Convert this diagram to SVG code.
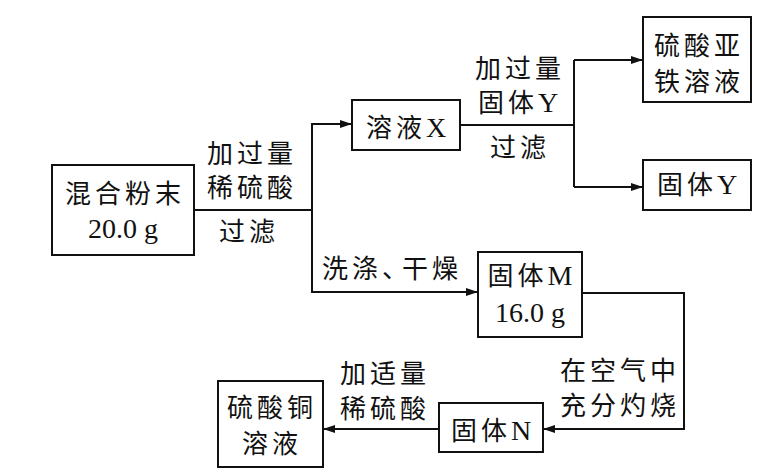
<svg xmlns="http://www.w3.org/2000/svg" width="774" height="476" viewBox="0 0 774 476">
<defs>
<marker id="arr" viewBox="0 0 12 8" refX="12" refY="4" markerWidth="12" markerHeight="8" markerUnits="userSpaceOnUse" orient="auto">
<path d="M0,0 L12,4 L0,8 Z" fill="#111"/>
</marker>
</defs>
<style>
.box{fill:#fff;stroke:#111;stroke-width:2}
.ln{fill:none;stroke:#111;stroke-width:2}
text{font-family:"Liberation Serif","Noto Sans CJK SC",serif;font-size:26px;fill:#111;text-anchor:middle;letter-spacing:4px}
.l{font-size:28px;letter-spacing:0}
</style>
<rect width="774" height="476" fill="#fff"/>
<g id="connectors">
<polyline class="ln" points="194,210 312,210"/>
<polyline class="ln" points="352,124 312,124 312,292 478,292" marker-end="url(#arr)"/>
<polyline class="ln" points="312,124 352,124" marker-end="url(#arr)"/>
<polyline class="ln" points="460,125 574,125"/>
<polyline class="ln" points="574,60 574,187"/>
<polyline class="ln" points="574,60 643,60" marker-end="url(#arr)"/>
<polyline class="ln" points="574,187 643,187" marker-end="url(#arr)"/>
<polyline class="ln" points="582,293 684,293 684,429 543,429" marker-end="url(#arr)"/>
<polyline class="ln" points="439,429 323,429" marker-end="url(#arr)"/>
<text x="252" y="163">加过量</text>
<text x="252" y="197">稀硫酸</text>
<text x="249" y="241">过滤</text>
<text x="520" y="78">加过量</text>
<text x="518" y="112">固体<tspan class="l">Y</tspan></text>
<text x="520" y="157">过滤</text>
<text x="392" y="278">洗涤<tspan letter-spacing="-6">、</tspan>干燥</text>
<text x="620" y="380">在空气中</text>
<text x="620" y="415">充分灼烧</text>
<text x="385" y="383">加适量</text>
<text x="385" y="418">稀硫酸</text>
</g>
<g id="mix">
<rect class="box" x="52" y="165" width="142" height="90"/>
<text x="125" y="203">混合粉末</text>
<text x="123" y="238"><tspan class="l">20.0 g</tspan></text>
</g>
<g id="solX">
<rect class="box" x="352" y="100" width="108" height="50"/>
<text x="406" y="137">溶液<tspan class="l">X</tspan></text>
</g>
<g id="feso4">
<rect class="box" x="643" y="17" width="108" height="85"/>
<text x="699" y="55">硫酸亚</text>
<text x="699" y="91">铁溶液</text>
</g>
<g id="solidY">
<rect class="box" x="643" y="160" width="108" height="50"/>
<text x="697" y="194">固体<tspan class="l">Y</tspan></text>
</g>
<g id="solidM">
<rect class="box" x="478" y="252" width="104" height="85"/>
<text x="530" y="285">固体<tspan class="l">M</tspan></text>
<text x="530" y="322"><tspan class="l">16.0 g</tspan></text>
</g>
<g id="solidN">
<rect class="box" x="439" y="403" width="104" height="49"/>
<text x="491" y="440">固体<tspan class="l">N</tspan></text>
</g>
<g id="cuso4">
<rect class="box" x="218" y="381" width="105" height="86"/>
<text x="272" y="417">硫酸铜</text>
<text x="272" y="453">溶液</text>
</g>
</svg>
